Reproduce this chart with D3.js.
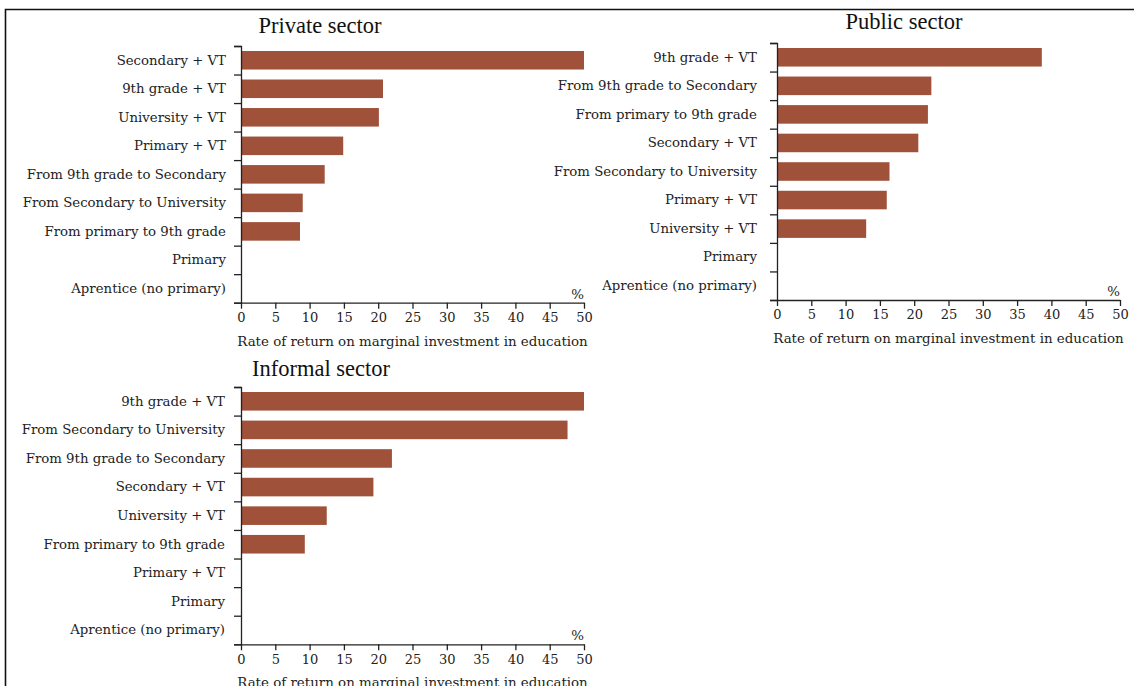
<!DOCTYPE html>
<html>
<head>
<meta charset="utf-8">
<script src="https://cdn.jsdelivr.net/npm/d3@7"></script>
<style>
  html, body { margin: 0; padding: 0; background: #fff; }
  svg { display: block; }
  .lbl text { font-family: "DejaVu Serif", serif; font-size: 13.3px; fill: #222; }
  .xax text { font-family: "DejaVu Serif", serif; font-size: 13px; fill: #222; }
  .ttl { font-family: "Liberation Serif", serif; font-size: 22.5px; fill: #111; }
  .atl { font-family: "DejaVu Serif", serif; font-size: 13.4px; fill: #222; }
</style>
</head>
<body>
<div id="chart"></div>
<script>
/* ── data ─────────────────────────────────────────── */
const xTicks = [0, 5, 10, 15, 20, 25, 30, 35, 40, 45, 50];

const privateCats = ["Secondary + VT", "9th grade + VT", "University + VT", "Primary + VT",
  "From 9th grade to Secondary", "From Secondary to University", "From primary to 9th grade",
  "Primary", "Aprentice (no primary)"];
const privateVals = [50, 20.7, 20.1, 14.9, 12.2, 9.0, 8.6, 0, 0];

const publicCats = ["9th grade + VT", "From 9th grade to Secondary", "From primary to 9th grade",
  "Secondary + VT", "From Secondary to University", "Primary + VT", "University + VT",
  "Primary", "Aprentice (no primary)"];
const publicVals = [38.6, 22.5, 22.0, 20.6, 16.4, 16.0, 13.0, 0, 0];

const informalCats = ["9th grade + VT", "From Secondary to University", "From 9th grade to Secondary",
  "Secondary + VT", "University + VT", "From primary to 9th grade", "Primary + VT",
  "Primary", "Aprentice (no primary)"];
const informalVals = [50, 47.6, 22.0, 19.3, 12.5, 9.3, 0, 0, 0];

const axisTitle = "Rate of return on marginal investment in education";
const BAR = "#a0513a", INK = "#222";

/* ── page ─────────────────────────────────────────── */
const W = 1134, H = 686;
const svg = d3.select("#chart").append("svg").attr("width", W).attr("height", H);

// frame (top + left rule)
svg.append("path").attr("d", `M5.5,${H} V9.5 H${W}`)
  .attr("fill", "none").attr("stroke", "#111").attr("stroke-width", 1.6);

function drawPanel(p) {
  const g = svg.append("g");
  const x = d3.scaleLinear().domain([0, 50]).range([p.x0, p.x1]);
  const y = d3.scaleBand().domain(p.cats).range([p.y0, p.y1]).paddingInner(0.35).paddingOuter(0.175);
  const yEdge = d3.scaleLinear().domain([0, p.cats.length]).range([p.y0, p.y1]);

  g.selectAll("rect").data(p.cats).join("rect")
    .attr("x", x(0))
    .attr("y", d => y(d))
    .attr("height", y.bandwidth())
    .attr("width", (d, i) => x(p.vals[i]) - x(0))
    .attr("fill", BAR);

  // category boundary ticks
  const yb = g.append("g").attr("transform", `translate(${p.x0},0)`)
    .call(d3.axisLeft(yEdge).ticks(p.cats.length).tickSize(7).tickFormat(""));
  yb.selectAll("path, line").attr("stroke", INK).attr("stroke-width", 1.3);

  // category labels
  const yl = g.append("g").attr("class", "lbl").attr("transform", `translate(${p.x0},0)`)
    .call(d3.axisLeft(y).tickSize(0).tickPadding(p.pad));
  yl.select(".domain").remove();

  // x axis
  const xa = g.append("g").attr("class", "xax").attr("transform", `translate(0,${p.y1})`)
    .call(d3.axisBottom(x).tickValues(xTicks).tickSize(6).tickSizeOuter(0).tickPadding(4));
  xa.selectAll("path, line").attr("stroke", INK).attr("stroke-width", 1.3);

  g.append("text").attr("class", "atl")
    .attr("x", p.x1).attr("y", p.y1 - 4).attr("text-anchor", "end").text("%");

  g.append("text").attr("class", "atl")
    .attr("x", (p.x0 + p.x1) / 2).attr("y", p.y1 + 43).attr("text-anchor", "middle")
    .text(axisTitle);

  g.append("text").attr("class", "ttl")
    .attr("x", p.tx).attr("y", p.ty).attr("text-anchor", "middle").text(p.title);
}

drawPanel({ title: "Private sector",  cats: privateCats,  vals: privateVals,
  x0: 241, x1: 584,  y0: 46,  y1: 302.7, pad: 15, tx: 320, ty: 33 });
drawPanel({ title: "Public sector",   cats: publicCats,   vals: publicVals,
  x0: 777, x1: 1120, y0: 43,  y1: 300,   pad: 20, tx: 904, ty: 29 });
drawPanel({ title: "Informal sector", cats: informalCats, vals: informalVals,
  x0: 241, x1: 584,  y0: 387, y1: 644.3, pad: 16, tx: 321, ty: 376 });
</script>
</body>
</html>
